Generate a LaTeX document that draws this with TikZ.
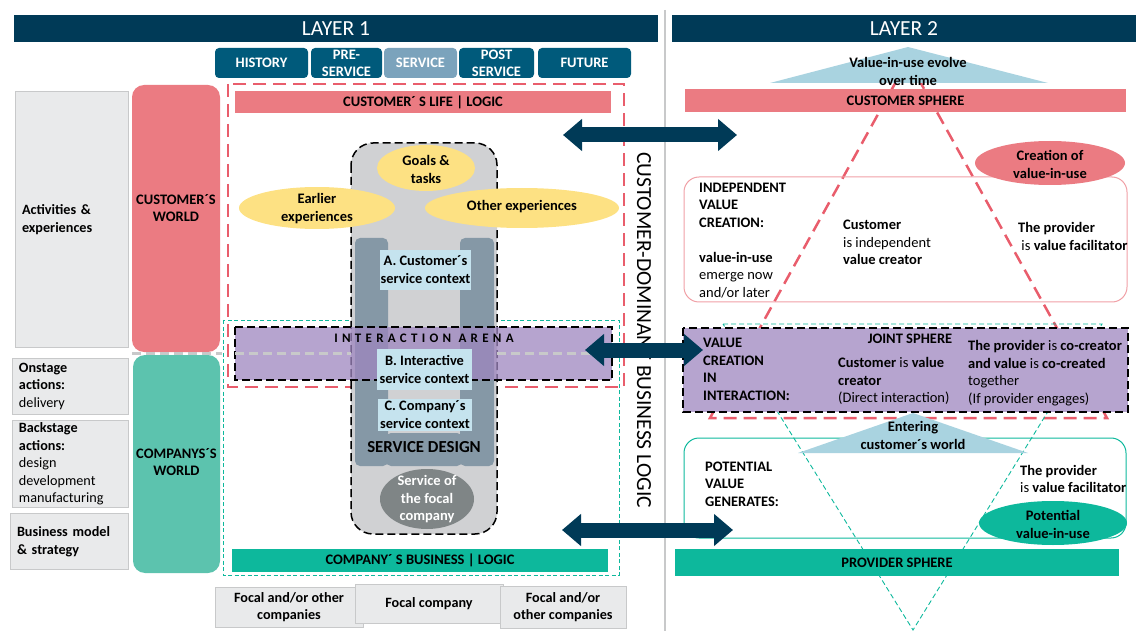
\documentclass[tikz,border=0pt]{standalone}
\usepackage{fontspec}
\setmainfont{Carlito}
\newfontfamily\spacedfont[LetterSpace=33]{Carlito}
\usetikzlibrary{arrows.meta}

\definecolor{navy}{HTML}{003A57}
\definecolor{tabblue}{HTML}{005A7B}
\definecolor{tablight}{HTML}{7BA3BC}
\definecolor{salmon}{HTML}{EB7B82}
\definecolor{rosyedge}{HTML}{F0A0A6}
\definecolor{worldteal}{HTML}{5CC3AE}
\definecolor{barteal}{HTML}{0DB89C}
\definecolor{lilac}{HTML}{B6A4CF}
\definecolor{lilacdeep}{HTML}{9E86BF}
\definecolor{sunny}{HTML}{FDE183}
\definecolor{paleblue}{HTML}{C5E3EE}
\definecolor{skyblue}{HTML}{A9D3E0}
\definecolor{columngrey}{HTML}{D0D1D3}
\definecolor{slate}{HTML}{8598A6}
\definecolor{stone}{HTML}{7F8586}
\definecolor{boxgrey}{HTML}{E9EAEB}
\definecolor{edgegrey}{HTML}{C8C9CA}
\definecolor{dashred}{HTML}{E95D6C}

\tikzset{
  layerbar/.style={fill=navy, text=white, minimum height=27, inner sep=0pt, font=\fontsize{21.5}{21.5}\selectfont},
  tabbox/.style={rounded corners=4pt, text=white, minimum height=30, inner sep=0pt, align=center, font=\fontsize{14.5}{17}\selectfont\bfseries},
  greybox/.style={draw=edgegrey, fill=boxgrey, line width=1pt, inner xsep=7pt, inner ysep=0pt, align=left, font=\fontsize{14.2}{17.5}\selectfont\bfseries},
  footbox/.style={greybox, inner sep=0pt, align=center},
  bar/.style={inner sep=0pt, font=\fontsize{14.5}{15}\selectfont\bfseries},
  bartxt/.style={inner sep=0pt, align=center, font=\fontsize{14.5}{17}\selectfont\bfseries},
  blobtxt/.style={inner sep=0pt, align=center, font=\fontsize{14.5}{18}\selectfont\bfseries},
  ctxbox/.style={fill=paleblue, inner sep=0pt, align=center, font=\fontsize{14.4}{18}\selectfont\bfseries},
  txt/.style={inner sep=0pt, align=left, anchor=west, font=\fontsize{14.5}{17.5}\selectfont},
  txtbold/.style={txt, font=\fontsize{14.5}{17.5}\selectfont\bfseries},
  blackdash/.style={draw=black, line width=1.5pt, dash pattern=on 8pt off 4pt},
  reddash/.style={dashred, line width=2.5pt, dash pattern=on 13pt off 7pt},
  tealdash/.style={barteal, line width=0.9pt, dash pattern=on 5pt off 3pt},
  greydash/.style={edgegrey, line width=2.5pt, dash pattern=on 9pt off 5pt},
  bigarrow/.style={draw=navy, line width=15pt, >={Triangle[width=31pt,length=19pt]}, <->}
}

\begin{document}
\begin{tikzpicture}[x=1pt, y=-1pt]
    \useasboundingbox (0,0) rectangle (1136,631);

    \draw[edgegrey, line width=1.5pt] (665,10) -- (665,631);

    \node[layerbar, minimum width=644] (layer1) at (336,28.5) {LAYER 1};
    \node[layerbar, minimum width=464] (layer2) at (904,28.5) {LAYER 2};

    \foreach \cx/\tabw/\col/\tabname/\tablabel in {261.5/93/tabblue/hist/HISTORY, 346.5/71/tabblue/pre/{PRE-\\SERVICE}, 420.5/73/tablight/serv/SERVICE, 496.5/75/tabblue/post/{POST\\SERVICE}, 584.5/93/tabblue/fut/FUTURE}
      {
        \node[tabbox, fill=\col, minimum width=\tabw] (\tabname) at (\cx,63) {\tablabel};
      }

    \node[greybox, minimum width=113, minimum height=255, text width=99] (activities) at (71.5,219.5) {Activities \&\\experiences};
    \node[greybox, minimum width=116, minimum height=56, text width=102] (onstage) at (70,386) {Onstage\\actions:\\{\mdseries delivery}};
    \node[greybox, minimum width=116, minimum height=87, text width=102] (backstage) at (70,464) {Backstage\\actions:\\{\mdseries design}\\{\mdseries development}\\{\mdseries manufacturing}};
    \node[greybox, minimum width=118, minimum height=56, text width=104] (bizmodel) at (69,541.5) {Business model\\\& strategy};

    \fill[salmon, rounded corners=12pt] (132,85) rectangle (220,352);
    \node[bartxt] (custworld) at (176,208.5) {CUSTOMER´S\\WORLD};
    \fill[worldteal, rounded corners=12pt] (133,355) rectangle (220,573);
    \node[bartxt] (compworld) at (176.5,462) {COMPANYS´S\\WORLD};
    \draw[greydash] (132,353.5) -- (222,353.5);

    \draw[reddash] (228,84) rectangle (624,387);
    \draw[barteal, line width=0.8pt, dash pattern=on 4pt off 2.5pt] (223,320) rectangle (619,575);

    \node[bar, fill=salmon, minimum width=376, minimum height=22] (lifebar) at (423,102) {CUSTOMER´ S LIFE | LOGIC};
    \node[bar, fill=barteal, minimum width=376, minimum height=23] (bizbar) at (420,560.5) {COMPANY´ S BUSINESS | LOGIC};

    \filldraw[fill=columngrey, blackdash, rounded corners=22pt] (351,143) rectangle (497,534);
    \fill[slate, rounded corners=5pt] (355,238) rectangle (388,466);
    \fill[slate, rounded corners=5pt] (460,238) rectangle (494,466);
    \fill[slate, rounded corners=5pt] (386,433) rectangle (462,466);

    \fill[sunny] (426,168) ellipse (49pt and 23pt);
    \node[blobtxt] (goals) at (426,169) {Goals \&\\tasks};
    \fill[sunny] (317,208) ellipse (78pt and 21pt);
    \node[blobtxt] (earlier) at (317,209) {Earlier\\experiences};
    \fill[sunny] (522,208) ellipse (97pt and 20pt);
    \node[blobtxt] (otherexp) at (522,207) {Other experiences};

    \filldraw[fill=lilacdeep, fill opacity=0.75, blackdash] (235,327) rectangle (612,380);
    \draw[greydash] (235,353.5) -- (351,353.5);
    \draw[greydash] (497,353.5) -- (600,353.5);
    \node[font=\spacedfont\fontsize{13}{13}\selectfont\bfseries, inner sep=0pt] (arena) at (424,338) {INTERACTION ARENA};

    \node[ctxbox, minimum width=91, minimum height=40] (ctxA) at (425.5,270) {A. Customer´s\\service context};
    \node[ctxbox, minimum width=95, minimum height=41] (ctxB) at (424.5,369.5) {B. Interactive\\service context};
    \node[ctxbox, minimum width=94, minimum height=32] (ctxC) at (425,415) {C. Company´s\\service context};
    \node[inner sep=0pt, font=\fontsize{16.8}{16.8}\selectfont\bfseries] (sdesign) at (424,447) {SERVICE DESIGN};

    \fill[stone] (427,499) ellipse (47pt and 30pt);
    \node[blobtxt, text=white, font=\fontsize{14.5}{17.5}\selectfont\bfseries] (focal) at (427,499.5) {Service of\\the focal\\company};

    \node[rotate=-90, inner sep=0pt, font=\fontsize{21.5}{21.5}\selectfont] (cdlogic) at (644,330) {CUSTOMER-DOMINANT BUSINESS LOGIC};

    \draw[reddash] (908,60) -- (1107,418) -- (710,418) -- cycle;
    \draw[tealdash] (723,324) -- (1102,324) -- (913,630) -- cycle;

    \fill[skyblue] (908,47) -- (1048,83) -- (770,83) -- cycle;
    \node[blobtxt] (evolve) at (908,71) {Value-in-use evolve\\over time};
    \node[bar, fill=salmon, minimum width=441, minimum height=23] (custsphere) at (905.5,100.5) {CUSTOMER SPHERE};

    \draw[rosyedge, line width=1pt, rounded corners=15pt] (684,177) rectangle (1127,302);
    \fill[salmon] (1050,163) ellipse (75pt and 22pt);
    \node[blobtxt] (creation) at (1050,164) {Creation of\\value-in-use};
    \node[txt] (indep) at (699,240.5) {\textbf{INDEPENDENT}\\\textbf{VALUE}\\\textbf{CREATION:}\\[17.5pt]\textbf{value-in-use}\\emerge now\\and/or later};
    \node[txt] (custindep) at (843,242.5) {\textbf{Customer}\\is independent\\\textbf{value creator}};
    \node[txt] (facil1) at (1018,236.5) {\textbf{The provider}\\\ is \textbf{value facilitator}};

    \filldraw[fill=lilac, blackdash] (683,328) rectangle (1128,412);
    \node[bartxt] (jointsphere) at (910,339) {JOINT SPHERE};
    \node[txtbold] (valint) at (703,369.5) {VALUE\\CREATION\\IN\\INTERACTION:};
    \node[txt] (custval) at (838,381) {\textbf{Customer} is \textbf{value}\\\textbf{creator}\\(Direct interaction)};
    \node[txt] (cocreator) at (968,373) {\textbf{The provider} is \textbf{co-creator}\\\textbf{and value} is \textbf{co-created}\\together\\(If provider engages)};

    \draw[barteal, line width=1pt, rounded corners=15pt] (684,438) rectangle (1126,538);
    \fill[skyblue] (913,413) -- (1028,453) -- (798,453) -- cycle;
    \node[blobtxt] (entering) at (913,435) {Entering\\customer´s world};
    \node[txtbold] (potential) at (705,484) {POTENTIAL\\VALUE\\GENERATES:};
    \node[txt] (facil2) at (1020,479) {\textbf{The provider}\\is \textbf{value facilitator}};
    \fill[barteal] (1053,523) ellipse (74pt and 22pt);
    \node[blobtxt] (potvalue) at (1053,524) {Potential\\value-in-use};
    \node[bar, fill=barteal, minimum width=444, minimum height=27] (provsphere) at (897,562.5) {PROVIDER SPHERE};

    \node[footbox, minimum width=148, minimum height=40] (focalA) at (289,607) {Focal and/or other\\companies};
    \node[footbox, minimum width=148, minimum height=39] (focalB) at (429,603.5) {Focal company};
    \node[footbox, minimum width=126, minimum height=42] (focalC) at (563,607) {Focal and/or\\other companies};

    \coordinate (arrAl) at (563,135);
    \coordinate (arrAr) at (737,135);
    \coordinate (arrBl) at (585,350);
    \coordinate (arrBr) at (703,350);
    \coordinate (arrCl) at (562,530);
    \coordinate (arrCr) at (733,530);
    \draw[bigarrow] (arrAl) -- (arrAr);
    \draw[bigarrow] (arrBl) -- (arrBr);
    \draw[bigarrow] (arrCl) -- (arrCr);
  \end{tikzpicture}
\end{document}
